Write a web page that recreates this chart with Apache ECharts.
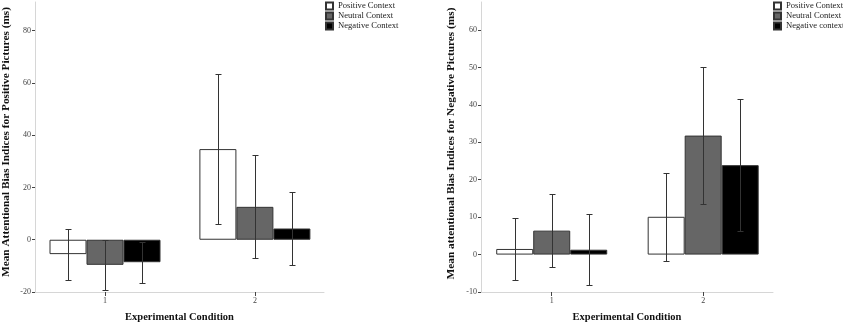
<!DOCTYPE html>
<html>
<head>
<meta charset="utf-8">
<script src="https://cdn.jsdelivr.net/npm/echarts@6/dist/echarts.min.js"></script>
<style>html,body{margin:0;padding:0;background:#fff}#main{width:843px;height:328px}</style>
</head>
<body>
<div id="main"></div>
<script>
// categories on the x axis
var categories = ['1', '2'];
var catValues = [1, 2];
// tick labels
var leftTicks = [-20, 0, 20, 40, 60, 80];
var rightTicks = [-10, 0, 10, 20, 30, 40, 50, 60];
// legend names
var leftNames = ['Positive Context', 'Neutral Context', 'Negative Context'];
var rightNames = ['Positive Context', 'Neutral Context', 'Negative context'];

// left chart: positive pictures (mean, half error bar)
var leftPositive = [-5.5, 34.7];
var leftPositiveErr = [9.8, 28.7];
var leftNeutral = [-9.6, 12.6];
var leftNeutralErr = [9.5, 19.7];
var leftNegative = [-8.6, 4.3];
var leftNegativeErr = [7.8, 13.8];

// right chart: negative pictures
var rightPositive = [1.5, 10.1];
var rightPositiveErr = [8.2, 11.8];
var rightNeutral = [6.4, 31.8];
var rightNeutralErr = [9.8, 18.4];
var rightNegative = [1.3, 23.9];
var rightNegativeErr = [9.5, 17.6];

var barColors = ['#ffffff', '#666666', '#000000'];
var barW = 37;
var serif = 'Liberation Serif';

var myChart = echarts.init(document.getElementById('main'));

function errRender(k) {
  return function (params, api) {
    var top = api.coord([api.value(0), api.value(2)]);
    var bot = api.coord([api.value(0), api.value(1)]);
    var x = Math.round(top[0] + (k - 1) * barW) + 0.5;
    var y1 = Math.round(top[1]) + 0.5, y2 = Math.round(bot[1]) + 0.5;
    var st = { stroke: '#333', lineWidth: 1 };
    return {
      type: 'group',
      children: [
        { type: 'line', shape: { x1: x, y1: y1, x2: x, y2: y2 }, style: st },
        { type: 'line', shape: { x1: x - 3, y1: y1, x2: x + 3, y2: y1 }, style: st },
        { type: 'line', shape: { x1: x - 3, y1: y2, x2: x + 3, y2: y2 }, style: st }
      ]
    };
  };
}

var series = [];
function addGroup(idx, names, means, errs) {
  for (var k = 0; k < 3; k++) {
    series.push({
      name: names[k],
      type: 'bar',
      xAxisIndex: idx,
      yAxisIndex: idx,
      barWidth: barW,
      barGap: '0%',
      data: catValues.map(function (c, i) { return [c, means[k][i]]; }),
      itemStyle: { color: barColors[k], borderColor: '#333', borderWidth: 1 }
    });
  }
  for (var k = 0; k < 3; k++) {
    series.push({
      type: 'custom',
      xAxisIndex: idx,
      yAxisIndex: idx,
      z: 5,
      renderItem: errRender(k),
      encode: { x: 0, y: [1, 2] },
      data: catValues.map(function (c, i) {
        return [c, means[k][i] - errs[k][i], means[k][i] + errs[k][i]];
      })
    });
  }
}
addGroup(0, leftNames, [leftPositive, leftNeutral, leftNegative], [leftPositiveErr, leftNeutralErr, leftNegativeErr]);
addGroup(1, rightNames, [rightPositive, rightNeutral, rightNegative], [rightPositiveErr, rightNeutralErr, rightNegativeErr]);

function xAxis(idx) {
  return {
    gridIndex: idx,
    type: 'value',
    min: 0.533,
    max: 2.461,
    name: 'Experimental Condition',
    nameLocation: 'middle',
    nameGap: 20,
    nameTextStyle: { fontFamily: serif, fontWeight: 'bold', fontSize: 10.5, color: '#111' },
    axisLine: { show: true, onZero: false, lineStyle: { color: '#d6d6d6' } },
    axisTick: { show: true, length: 4, customValues: catValues, lineStyle: { color: '#444' } },
    axisLabel: {
      customValues: catValues, fontSize: 8, color: '#444', fontFamily: serif, margin: 5,
      formatter: function (v) { return categories[v - 1]; }
    },
    splitLine: { show: false }
  };
}
function yAxis(idx, min, max, ticks, name, gap, shift) {
  return {
    gridIndex: idx,
    type: 'value',
    min: min,
    max: max,
    name: name,
    nameLocation: 'middle',
    nameGap: gap,
    nameTextStyle: { fontFamily: serif, fontWeight: 'bold', fontSize: 11.3, color: '#111', padding: [0, 0, 0, shift] },
    axisLine: { show: true, onZero: false, lineStyle: { color: '#d6d6d6' } },
    axisTick: { show: true, length: 3, customValues: ticks, lineStyle: { color: '#444' } },
    axisLabel: { customValues: ticks, fontSize: 8, color: '#444', fontFamily: serif, margin: 4 },
    splitLine: { show: false }
  };
}
function legend(left, names) {
  return {
    orient: 'vertical',
    left: left,
    top: 1,
    padding: 0,
    itemWidth: 7,
    itemHeight: 7,
    itemGap: 0,
    icon: 'rect',
    data: names,
    selectedMode: false,
    textStyle: { fontFamily: serif, fontSize: 8.6, lineHeight: 10, color: '#222' }
  };
}

option = {
  animation: false,
  backgroundColor: '#fff',
  grid: [
    { left: 33, top: 2, width: 291, height: 294 },
    { left: 481, top: 2, width: 292, height: 294 }
  ],
  legend: [legend(325, leftNames), legend(773, rightNames)],
  xAxis: [xAxis(0), xAxis(1)],
  yAxis: [
    yAxis(0, -20, 91, leftTicks, 'Mean Attentional Bias Indices for Positive Pictures (ms)', 23, 10),
    yAxis(1, -10, 67.5, rightTicks, 'Mean attentional Bias Indices for Negative Pictures (ms)', 24, 7)
  ],
  series: series
};

myChart.setOption(option);
</script>
</body>
</html>
